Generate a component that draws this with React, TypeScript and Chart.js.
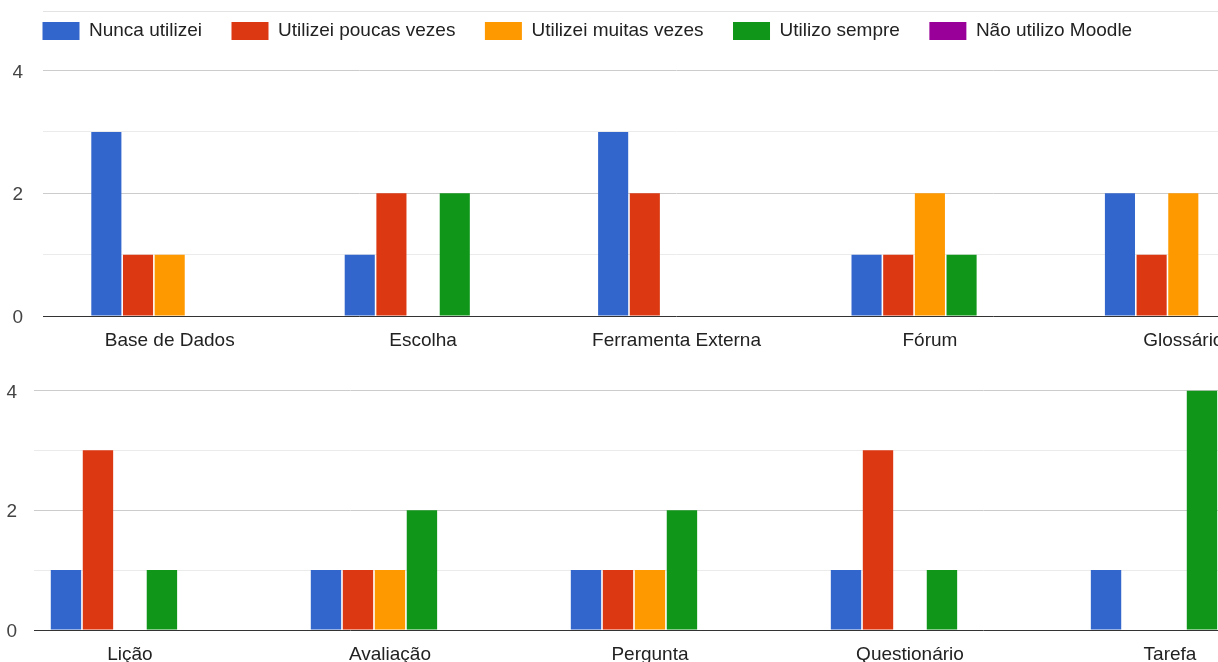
import { useEffect, useRef } from 'react';
import { Chart, registerables } from 'chart.js';

Chart.register(...registerables);

// ---- data ----
const seriesNames = [
  'Nunca utilizei',
  'Utilizei poucas vezes',
  'Utilizei muitas vezes',
  'Utilizo sempre',
  'Não utilizo Moodle',
];
const seriesColors = ['#3366cc', '#dc3912', '#ff9900', '#109618', '#990099'];

const topCategories = ['Base de Dados', 'Escolha', 'Ferramenta Externa', 'Fórum', 'Glossário'];
const topNunca = [3, 1, 3, 1, 2];
const topPoucas = [1, 2, 2, 1, 1];
const topMuitas = [1, 0, 0, 2, 2];
const topSempre = [0, 2, 0, 1, 0];
const topNao = [0, 0, 0, 0, 0];

const bottomCategories = ['Lição', 'Avaliação', 'Pergunta', 'Questionário', 'Tarefa'];
const bottomNunca = [1, 1, 1, 1, 1];
const bottomPoucas = [3, 1, 1, 3, 0];
const bottomMuitas = [0, 1, 1, 0, 0];
const bottomSempre = [1, 2, 2, 1, 4];
const bottomNao = [0, 0, 0, 0, 0];

const yMin = 0;
const yMax = 4;
const yStep = 1;

const FONT = '"Liberation Sans", Arial, sans-serif';
const FONT_SIZE = 19;

type Opts = {
  categories: string[];
  series: number[][];
  showLegend: boolean;
  legendExtra: number;
  xMin: number;
  xMax: number;
  padding: { left: number; top: number; right: number; bottom: number };
  yAxisWidth: number;
  yTickPadding: number;
  xAxisHeight: number;
  categoryPercentage: number;
};

function buildConfig(o: Opts): any {
  const legendGap = {
    id: 'legendGap',
    beforeLayout(chart: any) {
      const legend = chart.legend;
      if (!legend || legend._gapPatched) return;
      const fit = legend.fit;
      legend.fit = function () {
        fit.call(this);
        if (this.options.display) this.height += o.legendExtra;
      };
      legend._gapPatched = true;
    },
  };

  return {
    type: 'bar',
    data: {
      datasets: o.series.map((vals, si) => ({
        label: seriesNames[si],
        data: vals.map((v, i) => ({ x: i, y: v })),
        backgroundColor: seriesColors[si],
        borderWidth: 0,
        categoryPercentage: o.categoryPercentage,
        barPercentage: 0.95,
      })),
    },
    options: {
      responsive: false,
      animation: false,
      devicePixelRatio: 1,
      layout: { padding: o.padding },
      font: { family: FONT },
      plugins: {
        legend: {
          display: o.showLegend,
          position: 'top',
          align: 'start',
          labels: {
            boxWidth: 37,
            boxHeight: 18,
            padding: 29.5,
            color: '#222',
            font: { family: FONT, size: FONT_SIZE },
          },
        },
        tooltip: { enabled: false },
      },
      scales: {
        x: {
          type: 'linear',
          offset: false,
          min: o.xMin,
          max: o.xMax,
          afterBuildTicks: (s: any) => {
            s.ticks = o.categories.map((_, i) => ({ value: i }));
          },
          afterFit: (s: any) => {
            s.height = o.xAxisHeight;
          },
          ticks: {
            autoSkip: false,
            maxRotation: 0,
            minRotation: 0,
            padding: 13,
            color: '#222',
            font: { family: FONT, size: FONT_SIZE },
            callback: (v: number) => o.categories[v] ?? '',
          },
          grid: { display: false, drawTicks: false },
          border: { display: false },
        },
        y: {
          min: yMin,
          max: yMax,
          afterFit: (s: any) => {
            s.width = o.yAxisWidth;
          },
          ticks: {
            stepSize: yStep,
            padding: o.yTickPadding,
            labelOffset: 2,
            color: '#444',
            font: { family: FONT, size: FONT_SIZE },
            callback: (v: number) => (v % 2 === 0 ? String(v) : ''),
          },
          grid: {
            drawTicks: false,
            lineWidth: 1,
            color: (ctx: any) => {
              const v = ctx.tick ? ctx.tick.value : 0;
              if (v === 0) return '#333333';
              return v % 2 === 0 ? '#cccccc' : '#ebebeb';
            },
          },
          border: { display: false },
        },
      },
    },
    plugins: [legendGap],
  };
}

function BarChart({ opts, width, height, style }: { opts: Opts; width: number; height: number; style: any }) {
  const ref = useRef<HTMLCanvasElement | null>(null);
  useEffect(() => {
    if (!ref.current) return;
    const chart = new Chart(ref.current, buildConfig(opts));
    return () => chart.destroy();
  }, []);
  return <canvas ref={ref} width={width} height={height} style={{ position: 'absolute', display: 'block', width, height, ...style }} />;
}

export default function App() {
  useEffect(() => {
    document.body.style.margin = '0';
  }, []);

  const topOpts: Opts = {
    categories: topCategories,
    series: [topNunca, topPoucas, topMuitas, topSempre, topNao],
    showLegend: true,
    legendExtra: 20,
    xMin: -0.5,
    xMax: 4.5,
    padding: { left: 13, top: 0, right: 0, bottom: 0 },
    yAxisWidth: 30,
    yTickPadding: 20,
    xAxisHeight: 46,
    categoryPercentage: 0.625,
  };

  const bottomOpts: Opts = {
    categories: bottomCategories,
    series: [bottomNunca, bottomPoucas, bottomMuitas, bottomSempre, bottomNao],
    showLegend: false,
    legendExtra: 0,
    xMin: -0.369,
    xMax: 4.5,
    padding: { left: 0, top: 24, right: 0, bottom: 0 },
    yAxisWidth: 34,
    yTickPadding: 17,
    xAxisHeight: 52,
    categoryPercentage: 0.615,
  };

  return (
    <div
      style={{
        position: 'fixed',
        left: 0,
        top: 0,
        width: 1218,
        height: 662,
        overflow: 'hidden',
        background: '#fff',
      }}
    >
      <div style={{ position: 'absolute', left: 43, right: 0, top: 11, height: 1, background: '#e3e3e3' }} />
      <BarChart opts={topOpts} width={1310} height={370} style={{ left: 0, top: -8 }} />
      <BarChart opts={bottomOpts} width={1300} height={320} style={{ left: 0, top: 362 }} />
    </div>
  );
}
